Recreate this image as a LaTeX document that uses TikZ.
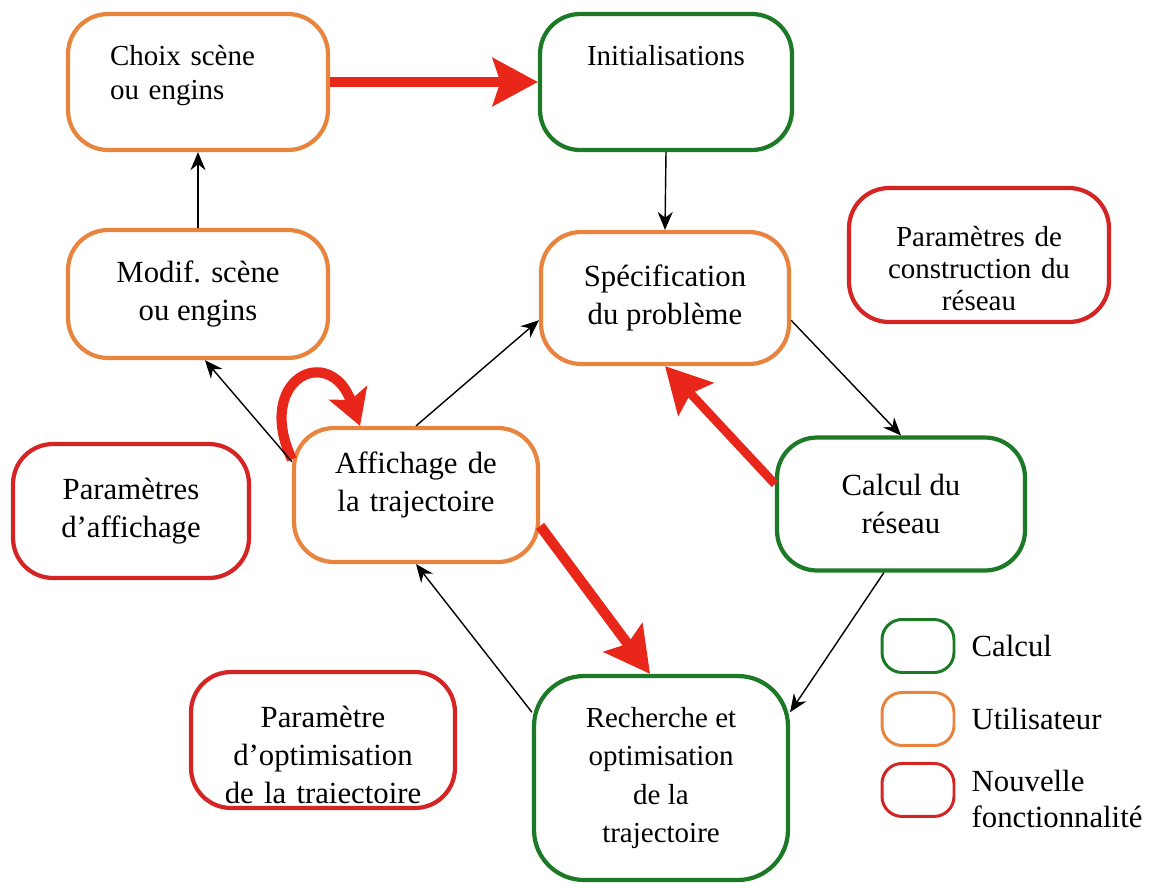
\documentclass[tikz,border=0pt]{standalone}
\usepackage{fontspec}
\setmainfont{Liberation Serif}
\usetikzlibrary{positioning,arrows.meta}
\definecolor{vertcalc}{RGB}{28,122,38}
\definecolor{orangeutil}{RGB}{232,132,62}
\definecolor{rougenouv}{RGB}{212,36,36}
\definecolor{rougefl}{RGB}{232,38,26}

\begin{document}
\begin{tikzpicture}[x=0.02cm, y=-0.02cm,
  boite/.style={rectangle, rounded corners=0.8cm, line width=2.4pt, fill=white,
                align=center, inner sep=2pt, font=\fontsize{17.5}{21.5}\selectfont},
  calcul/.style={boite, draw=vertcalc},
  util/.style={boite, draw=orangeutil},
  nouv/.style={boite, draw=rougenouv},
  haut/.style={text depth=1.05cm},
  fleche/.style={-{Stealth[length=3.6mm, width=3mm]}, line width=0.8pt},
  grosse/.style={-{Stealth[length=9mm, width=9.5mm, inset=1.5mm]},
                 line width=5.8pt, color=rougefl},
  leg/.style={rectangle, rounded corners=0.4cm, line width=1.7pt,
              minimum width=1.44cm, minimum height=1.06cm},
  legtxt/.style={font=\fontsize{17.5}{20.5}\selectfont, align=left}]
  \useasboundingbox (0,0) rectangle (1161,887);
  \node[util, haut, minimum width=5.2cm, minimum height=2.72cm, text width=3.52cm,
        align=left, font=\fontsize{16.5}{19.4}\selectfont] (choix) at (198,82)
       {Choix scène\\ou engins};
  \node[calcul, haut, minimum width=5.04cm, minimum height=2.72cm,
        font=\fontsize{16.5}{20}\selectfont] (init) at (666,82) {Initialisations};
  \node[util, minimum width=5.2cm, minimum height=2.56cm] (modif) at (198,294)
       {Modif. scène\\ou engins};
  \node[util, minimum width=4.96cm, minimum height=2.64cm] (spec) at (665,298)
       {Spécification\\du problème};
  \node[nouv, minimum width=5.2cm, minimum height=2.68cm, text width=5cm,
        text height=0.93cm, font=\fontsize{16.5}{18.2}\selectfont] (constr) at (979,255)
       {Paramètres de\\construction du\\réseau};
  \node[nouv, minimum width=4.72cm, minimum height=2.68cm] (paff) at (131,511)
       {Paramètres\\d’affichage};
  \node[util, minimum width=4.88cm, minimum height=2.68cm, text width=4.5cm,
        text depth=1.3cm] (aff) at (416,495)
       {Affichage de\\la trajectoire};
  \node[calcul, minimum width=4.96cm, minimum height=2.66cm] (calc) at (901,504)
       {Calcul du\\réseau};
  \node[nouv, minimum width=5.28cm, minimum height=2.72cm, text width=5cm,
        text height=1.03cm] (popt) at (323,740)
       {Paramètre\\d’optimisation\\de la traiectoire};
  \node[calcul, rounded corners=1cm, minimum width=5.08cm, minimum height=4.08cm,
        font=\fontsize{16.5}{22}\selectfont] (rech) at (661,778)
       {Recherche et\\optimisation\\de la\\trajectoire};

  \node[leg, draw=vertcalc] (lcalc) at (918,646) {};
  \node[leg, draw=orangeutil, below=0.34cm of lcalc] (lutil) {};
  \node[leg, draw=rougenouv, below=0.3cm of lutil] (lnouv) {};
  \node[legtxt, right=0.2cm of lcalc] (tcalc) {Calcul};
  \node[legtxt, right=0.2cm of lutil] (tutil) {Utilisateur};
  \node[legtxt, right=0.2cm of lnouv, yshift=-0.18cm] (tnouv) {Nouvelle\\fonctionnalité};

  \draw[grosse] (choix.east) -- (init.west);
  \draw[grosse, line width=5pt] (calc.171) -- (spec.south);
  \draw[grosse] (aff.-14) -- (rech.96);
  \draw[grosse, -{Stealth[length=7mm, width=8mm, inset=1.5mm]}]
    (aff.164) to[out=115, in=110, looseness=3] (aff.129);
  \foreach \a/\b in {init.south/spec.north, modif.north/choix.south,
                     spec.-10/calc.north, calc.-104/rech.27, rech.153/aff.south,
                     aff.north/spec.190, aff.165/modif.-84}
    \draw[fleche] (\a) -- (\b);
\end{tikzpicture}
\end{document}
